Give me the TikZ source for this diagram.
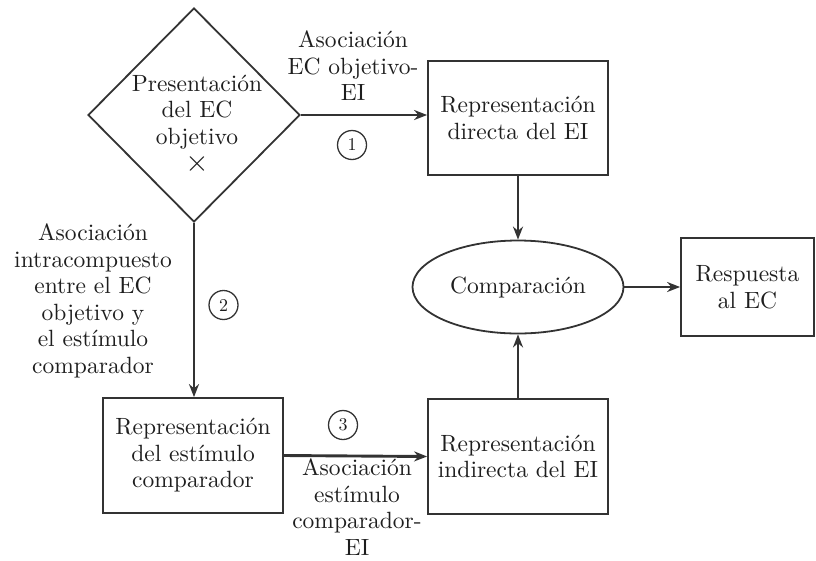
\documentclass[tikz,border=0pt]{standalone}
\usepackage{fontspec}
\setmainfont{lmroman10-regular.otf}
\usetikzlibrary{shapes.geometric,arrows.meta}
\definecolor{ink}{HTML}{333333}
\definecolor{txt}{HTML}{1E1E1E}
\begin{document}
\begin{tikzpicture}[x=1pt,y=-1pt,
  every node/.style={font=\fontsize{23.5}{26.5}\selectfont, text=txt, align=center},
  box/.style={draw=ink, line width=1.8pt, rectangle, inner sep=0pt},
  oval/.style={draw=ink, line width=1.8pt, ellipse, inner sep=0pt},
  dia/.style={draw=ink, line width=1.8pt, diamond, inner sep=0pt},
  num/.style={draw=ink, line width=1.3pt, circle, minimum size=29pt, inner sep=0pt, font=\fontsize{18}{18}\selectfont},
  flow/.style={draw=ink, line width=2.9pt, -{Stealth[length=13pt,width=10pt]}},
  lbl/.style={inner sep=0pt}
]
\useasboundingbox (0,0) rectangle (816,560);
% shapes
\node[dia, minimum width=212pt, minimum height=214pt] (D) at (194,115) {};
\node[lbl] (Dt) at (197,112) {Presentación\\del EC\\objetivo};
\node[lbl, font=\fontsize{30}{30}\selectfont] (Dx) at (197,164) {×};
\node[box, minimum width=180pt, minimum height=114pt] (B1) at (518,118) {Representación\\directa del EI};
\node[oval, minimum width=211pt, minimum height=93pt] (E) at (518,287) {Comparación};
\node[box, minimum width=133pt, minimum height=98pt] (R) at (747.5,287) {Respuesta\\al EC};
\node[box, minimum width=180pt, minimum height=115pt] (B3) at (193,455.5) {Representación\\del estímulo\\comparador};
\node[box, minimum width=180pt, minimum height=115pt] (B4) at (518,456.5) {Representación\\indirecta del EI};
% labels
\node[lbl] (L1) at (353,66) {Asociación\\EC objetivo-\\EI};
\node[lbl] (L2) at (93,301) {Asociación\\intracompuesto\\entre el EC\\objetivo y\\el estímulo\\comparador};
\node[lbl] (L3) at (357,507) {Asociación\\estímulo\\comparador-\\EI};
\node[num] (N1) at (352,145) {1};
\node[num] (N2) at (223.5,305) {2};
\node[num] (N3) at (343,425) {3};
% connectors
\draw[flow] (D.east) -- (D.east -| B1.west);
\draw[flow] (B1.south) -- (E.north);
\draw[flow] (E.east) -- (R.west);
\draw[flow] (D.south) -- (D.south |- B3.north);
\draw[flow] (B3.east) -- (B4.west);
\draw[flow] (B4.north) -- (E.south);
\end{tikzpicture}
\end{document}
